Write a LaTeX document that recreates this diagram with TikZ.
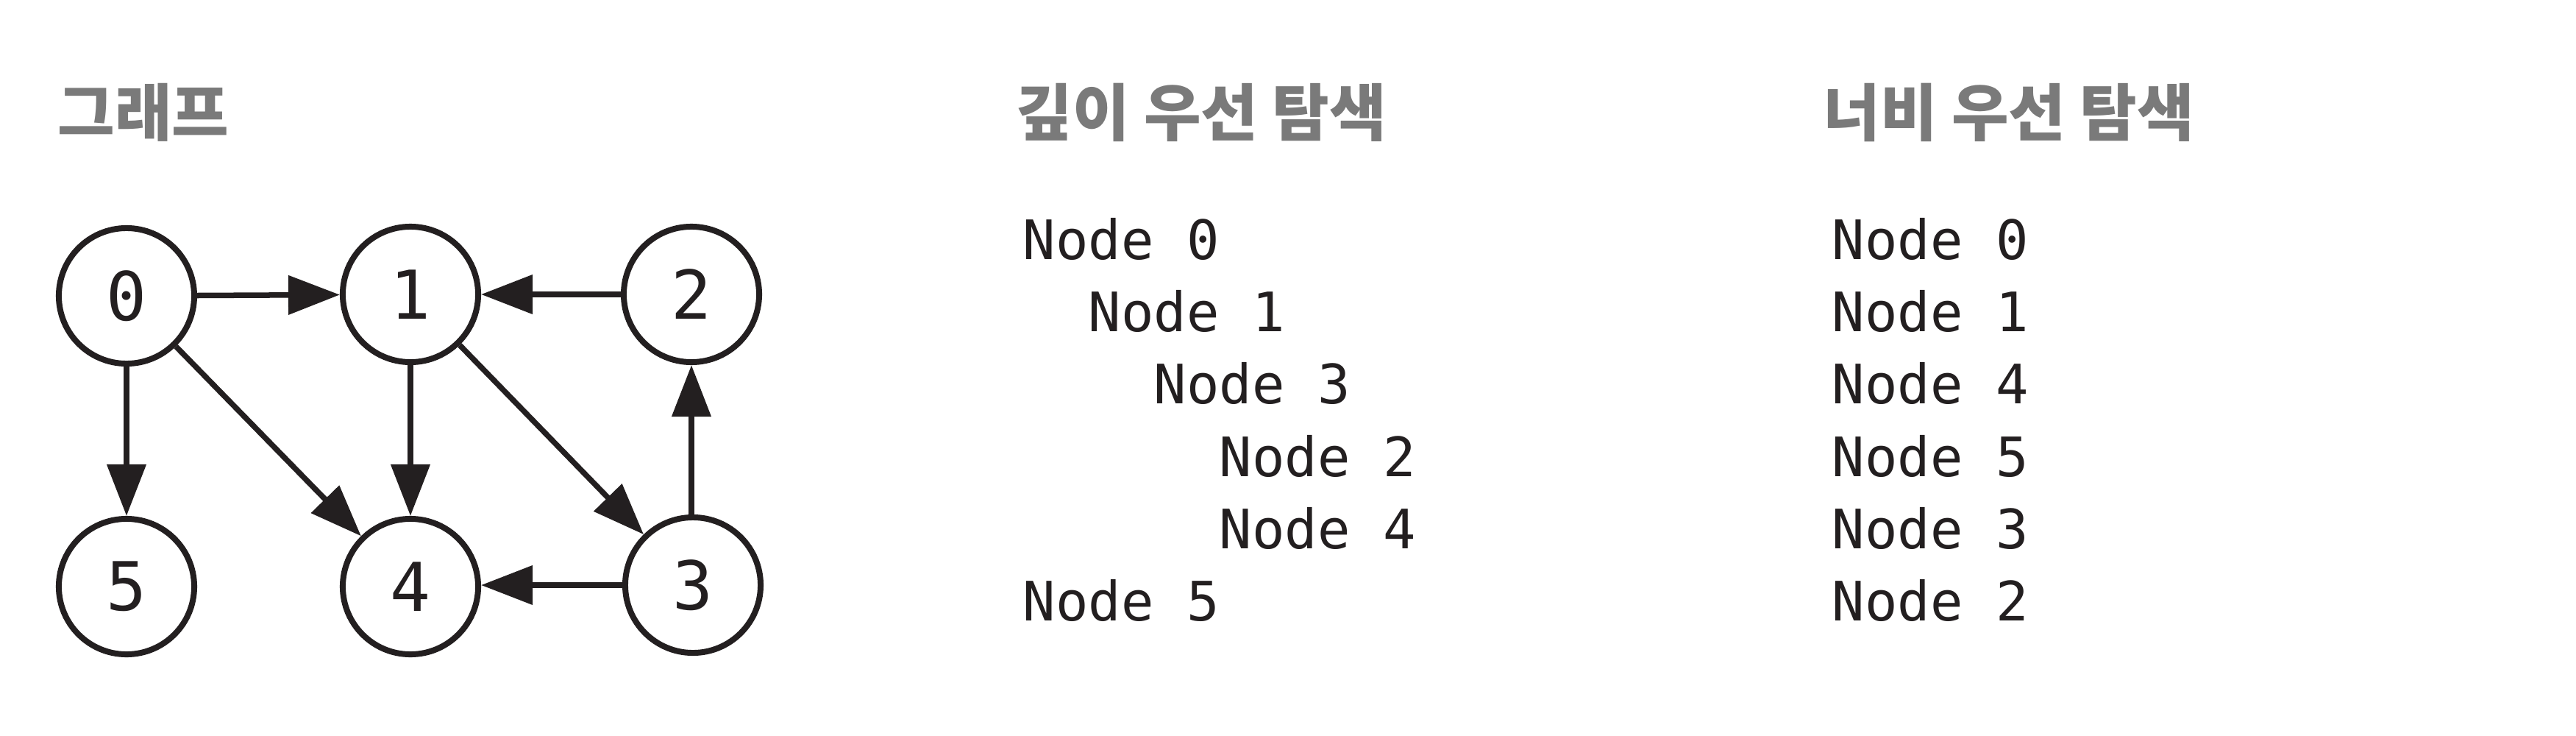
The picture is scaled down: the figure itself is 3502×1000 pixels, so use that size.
\documentclass[tikz,border=0pt]{standalone}
\usepackage{fontspec}
\setmonofont{DejaVu Sans Mono}
\newfontfamily\kr{Noto Sans CJK KR}
\usetikzlibrary{arrows.meta}
\definecolor{ink}{HTML}{231F20}
\definecolor{titlegray}{HTML}{7A7A7A}
\tikzset{
  vertex/.style={circle, draw=ink, line width=0.08cm, minimum size=1.84cm, inner sep=0pt,
                 font=\ttfamily\fontsize{26}{30}\selectfont, text=ink},
  edge/.style={draw=ink, line width=0.075cm, -{Triangle[length=0.7cm, width=0.52cm]}},
  title/.style={anchor=west, inner sep=0pt, text=titlegray, font=\kr\bfseries\fontsize{24}{28}\selectfont},
  item/.style={anchor=base west, inner sep=0pt, text=ink, font=\ttfamily\fontsize{21}{25}\selectfont}
}
\begin{document}
\begin{tikzpicture}[x=0.01cm, y=-0.01cm]
\useasboundingbox (0,0) rectangle (3502,1000);
% titles
\node[title] (t1) at (78,153) {그래프};
\node[title] (t2) at (1380,153) {깊이 우선 탐색};
\node[title] (t3) at (2478,153) {너비 우선 탐색};
% graph
\node[vertex] (n0) at (172,402) {0};
\node[vertex] (n1) at (558,400) {1};
\node[vertex] (n2) at (940,400) {2};
\node[vertex] (n5) at (172,797) {5};
\node[vertex] (n4) at (558,797) {4};
\node[vertex] (n3) at (942,795) {3};
\draw[edge] (n0) -- (n1);
\draw[edge] (n2) -- (n1);
\draw[edge] (n0) -- (n5);
\draw[edge] (n0) -- (n4);
\draw[edge] (n1) -- (n4);
\draw[edge] (n1) -- (n3);
\draw[edge] (n3.north -| n2) -- (n2);
\draw[edge] (n3.west) -- (n4.east |- n3.west);
% depth-first list
\node[item] (d0) at (1390,352) {Node 0};
\node[item] (d1) at (1479,450) {Node 1};
\node[item] (d2) at (1568,548) {Node 3};
\node[item] (d3) at (1657,647) {Node 2};
\node[item] (d4) at (1657,745) {Node 4};
\node[item] (d5) at (1390,843) {Node 5};
% breadth-first list
\node[item] (b0) at (2490,352) {Node 0};
\node[item] (b1) at (2490,450) {Node 1};
\node[item] (b2) at (2490,548) {Node 4};
\node[item] (b3) at (2490,647) {Node 5};
\node[item] (b4) at (2490,745) {Node 3};
\node[item] (b5) at (2490,843) {Node 2};
\end{tikzpicture}
\end{document}
